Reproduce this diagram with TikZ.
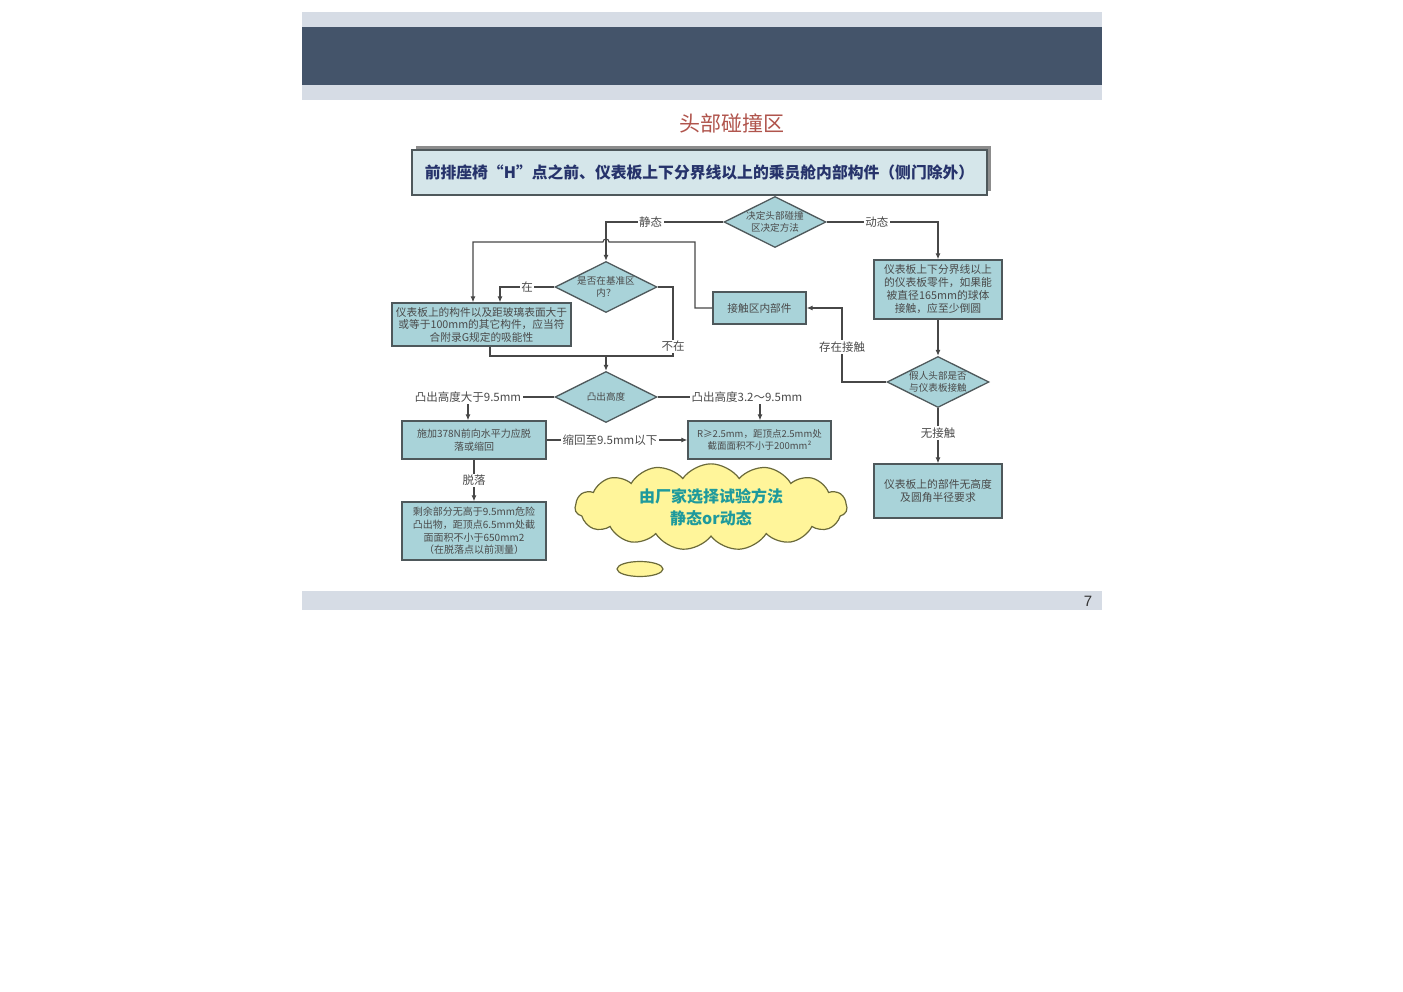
\documentclass[tikz,border=0pt]{standalone}
\usepackage{fontspec}
\setmainfont{Noto Sans CJK SC}
\newfontfamily\lib{Liberation Sans}
\usetikzlibrary{shapes.geometric,shapes.symbols,arrows.meta,calc}
\definecolor{barlight}{HTML}{D6DCE5}
\definecolor{bardark}{HTML}{44546A}
\definecolor{titlered}{HTML}{B0544C}
\definecolor{boxfill}{HTML}{A9D3D9}
\definecolor{topfill}{HTML}{D5E6EA}
\definecolor{edgecol}{HTML}{4E585B}
\definecolor{txtcol}{HTML}{4A4A4A}
\definecolor{linecol}{HTML}{474747}
\definecolor{cloudfill}{HTML}{FFF59A}
\definecolor{cloudedge}{HTML}{6B6A3A}
\definecolor{cloudtext}{HTML}{1E9A9C}
\definecolor{navy}{HTML}{26336B}
\tikzset{
  fbox/.style={draw=edgecol, line width=1.3pt, fill=boxfill, text=txtcol, align=center, inner sep=1pt, font=\fontsize{10.7}{12.5}\selectfont},
  dia/.style={shape=diamond, aspect=2, draw=edgecol, line width=1.3pt, fill=boxfill, text=txtcol, align=center, inner sep=-3pt, minimum width=102pt, minimum height=51pt, font=\fontsize{9.6}{11.5}\selectfont},
  lbl/.style={text=txtcol, fill=white, inner sep=1.5pt, font=\fontsize{11.5}{13}\selectfont},
  conn/.style={draw=linecol, line width=1.1pt},
  arr/.style={conn, -{Latex[length=6pt,width=5pt]}}
}
\begin{document}
\begin{tikzpicture}[x=1pt,y=-1pt]
\useasboundingbox (0,0) rectangle (1403,992);
\fill[white] (0,0) rectangle (1403,992);
% slide bars
\fill[barlight] (302,12) rectangle (1102,100);
\fill[bardark] (302,27) rectangle (1102,85);
\fill[barlight] (302,591) rectangle (1102,610);
\node[font=\lib\fontsize{15}{17}\selectfont, text=black!80] (pg) at (1088,601) {7};
\node[font=\fontsize{21}{24}\selectfont, text=titlered] (title) at (732,123) {头部碰撞区};
% top box with shadow
\fill[black!45] (416,146) rectangle (991,191);
\node[draw=edgecol, line width=1.3pt, fill=topfill, minimum width=575pt, minimum height=45pt, inner sep=0pt, text=navy, font=\bfseries\fontsize{15.8}{17}\selectfont] (top) at (699.5,172.5) {前排座椅“H”点之前、仪表板上下分界线以上的乘员舱内部构件（侧门除外）};
% diamonds
\node[dia] (d1) at (775,222) {决定头部碰撞\\区决定方法};
\node[dia] (d2) at (606,287) {是否在基准区\\内？};
\node[dia] (d3) at (606,397) {凸出高度};
\node[dia] (d4) at (938,382) {假人头部是否\\与仪表板接触};
% boxes
\node[fbox, minimum width=179pt, minimum height=43pt] (lbox) at (481.5,324.5) {仪表板上的构件以及距玻璃表面大于\\或等于100mm的其它构件，应当符\\合附录G规定的吸能性};
\node[fbox, minimum width=93pt, minimum height=32pt] (jbox) at (759.5,308) {接触区内部件};
\node[fbox, minimum width=128pt, minimum height=59pt, font=\fontsize{10.8}{13}\selectfont] (rbox1) at (938,289.5) {仪表板上下分界线以上\\的仪表板零件，如果能\\被直径165mm的球体\\接触，应至少倒圆};
\node[fbox, minimum width=128pt, minimum height=54pt, font=\fontsize{10.8}{13.5}\selectfont] (rbox2) at (938,491) {仪表板上的部件无高度\\及圆角半径要求};
\node[fbox, minimum width=144pt, minimum height=38pt, font=\fontsize{10}{12.5}\selectfont] (b3) at (474,440) {施加378N前向水平力应脱\\落或缩回};
\node[fbox, minimum width=143pt, minimum height=38pt, font=\fontsize{9.5}{12.5}\selectfont] (b4) at (759.5,440) {R≥2.5mm，距顶点2.5mm处\\截面面积不小于200mm²};
\node[fbox, minimum width=144pt, minimum height=58pt, font=\fontsize{10}{12.8}\selectfont] (b5) at (474,531) {剩余部分无高于9.5mm危险\\凸出物，距顶点6.5mm处截\\面面积不小于650mm2\\（在脱落点以前测量）};
% cloud
\node[cloud, cloud puffs=15, cloud puff arc=110, aspect=3.1, draw=cloudedge, line width=1.2pt, fill=cloudfill, minimum width=272pt, minimum height=86pt, inner sep=0pt, text=cloudtext, align=center, font=\bfseries\fontsize{16}{22}\selectfont] (cloud) at (711,507) {由厂家选择试验方法\\静态or动态};
\node[ellipse, draw=cloudedge, line width=1.2pt, fill=cloudfill, minimum width=46pt, minimum height=15pt, inner sep=0pt] (bubble) at (640,569) {};
% coordinates
\coordinate (c1) at (606,222);
\coordinate (c2) at (938,222);
\coordinate (h1) at (695,308);
\coordinate (h2) at (695,242);
\coordinate (h3) at (609,242);
\coordinate (h4) at (473,242);
\coordinate (c3) at (500,287);
\coordinate (c4) at (673,287);
\coordinate (c5) at (673,356);
\coordinate (c6) at (490,356);
\coordinate (c7) at (606,356);
\coordinate (c8) at (842,382);
\coordinate (c9) at (842,308);
% connectors
\draw[arr] (d1.west) -- node[lbl, pos=0.62]{静态} (c1) -- (d2.north);
\draw[arr] (d1.east) -- node[lbl, pos=0.45]{动态} (c2) -- (rbox1.north);
\draw[arr] (jbox.west) -- (h1) -- (h2) -- (h3) arc (0:-180:3) -- (h4) -- (h4 |- lbox.north);
\draw[arr] (d2.west) -- node[lbl, pos=0.5]{在} (c3) -- (c3 |- lbox.north);
\draw[conn] (d2.east) -- (c4) -- node[lbl, pos=0.86, inner sep=1pt]{不在} (c5) -- (c6) -- (c6 |- lbox.south);
\draw[arr] (c7) -- (d3.north);
\draw[arr] (d4.west) -- (c8) -- node[lbl, pos=0.47]{存在接触} (c9) -- (jbox.east);
\draw[arr] (rbox1.south) -- (d4.north);
\draw[arr] (d4.south) -- node[lbl, pos=0.45]{无接触} (rbox2.north);
\node[lbl] (l1) at (468,397) {凸出高度大于9.5mm};
\node[lbl] (l2) at (747,397) {凸出高度3.2～9.5mm};
\draw[conn] (d3.west) -- (l1.east);
\draw[conn] (d3.east) -- (l2.west);
\draw[arr] (l1.south) -- (l1.south |- b3.north);
\draw[arr] ($(l2.south)+(13,0)$) -- ($(l2.south |- b4.north)+(13,0)$);
\draw[arr] (b3.east) -- node[lbl, pos=0.45]{缩回至9.5mm以下} (b4.west);
\draw[arr] (b3.south) -- node[lbl, pos=0.5]{脱落} (b5.north);
\end{tikzpicture}
\end{document}
